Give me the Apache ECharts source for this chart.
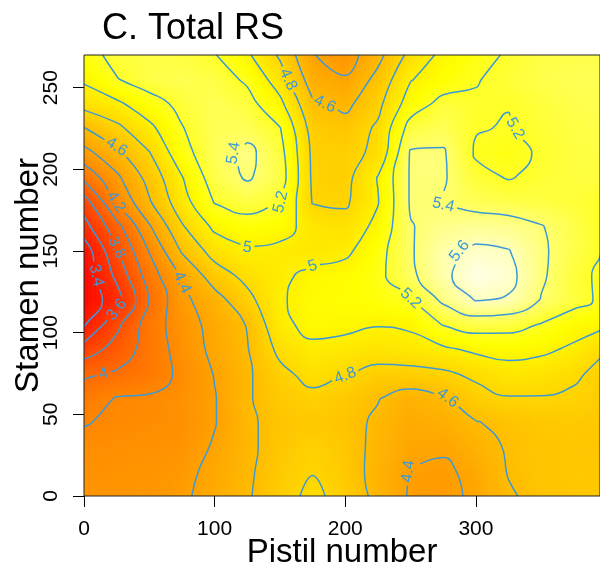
<!DOCTYPE html>
<html>
<head>
<meta charset="utf-8">
<title>C. Total RS</title>
<script src="https://cdn.jsdelivr.net/npm/echarts@6.0.0/dist/echarts.min.js"></script>
<style>
  html, body { margin: 0; padding: 0; background: #fff; }
  #main { width: 600px; height: 570px; }
</style>
</head>
<body>
<div id="main"></div>
<script>
// Total RS at grid nodes
var pistil = [0, 25, 50, 75, 100, 125, 150, 175, 200, 225, 250, 275, 300, 325, 350, 375, 400];
var stamen = [0, 15, 30, 45, 60, 75, 90, 105, 120, 135, 150, 165, 180, 195, 210, 225, 240, 255, 270];
// one row per stamen value (bottom to top), one column per pistil value
var rs = [
  [4.30, 4.31, 4.32, 4.37, 4.47, 4.58, 4.72, 4.85, 4.72, 4.55, 4.38, 4.34, 4.44, 4.58, 4.65, 4.68, 4.68],
  [4.28, 4.29, 4.30, 4.34, 4.46, 4.57, 4.70, 4.79, 4.70, 4.53, 4.39, 4.36, 4.46, 4.61, 4.67, 4.69, 4.68],
  [4.25, 4.27, 4.28, 4.30, 4.42, 4.56, 4.68, 4.76, 4.68, 4.55, 4.44, 4.43, 4.52, 4.62, 4.67, 4.68, 4.67],
  [4.19, 4.23, 4.25, 4.27, 4.39, 4.57, 4.66, 4.70, 4.66, 4.57, 4.47, 4.50, 4.59, 4.65, 4.69, 4.70, 4.68],
  [4.10, 4.21, 4.22, 4.28, 4.39, 4.58, 4.70, 4.75, 4.70, 4.61, 4.52, 4.58, 4.73, 4.79, 4.79, 4.77, 4.72],
  [3.97, 4.02, 4.10, 4.24, 4.41, 4.57, 4.75, 4.87, 4.81, 4.74, 4.74, 4.77, 4.84, 4.92, 4.90, 4.83, 4.74],
  [3.68, 3.88, 4.08, 4.28, 4.45, 4.59, 4.85, 4.96, 4.93, 4.90, 4.93, 4.97, 5.04, 5.07, 5.04, 4.97, 4.81],
  [3.38, 3.75, 4.10, 4.30, 4.47, 4.61, 4.95, 5.06, 5.05, 5.01, 5.03, 5.21, 5.29, 5.27, 5.19, 5.08, 5.03],
  [3.27, 3.50, 4.01, 4.35, 4.52, 4.74, 4.98, 5.07, 5.09, 5.12, 5.19, 5.44, 5.61, 5.58, 5.39, 5.27, 5.15],
  [3.25, 3.65, 4.10, 4.42, 4.70, 4.86, 4.96, 5.05, 5.08, 5.15, 5.36, 5.56, 5.71, 5.66, 5.43, 5.26, 5.15],
  [3.28, 3.78, 4.21, 4.62, 4.88, 4.98, 4.95, 4.92, 4.96, 5.13, 5.38, 5.56, 5.64, 5.61, 5.43, 5.30, 5.18],
  [3.52, 3.93, 4.38, 4.78, 5.04, 5.12, 5.08, 4.92, 4.88, 5.05, 5.39, 5.47, 5.50, 5.48, 5.41, 5.30, 5.18],
  [3.70, 4.21, 4.58, 4.92, 5.21, 5.28, 5.21, 4.79, 4.77, 4.99, 5.42, 5.39, 5.33, 5.30, 5.28, 5.25, 5.19],
  [4.05, 4.36, 4.67, 4.99, 5.30, 5.42, 5.30, 4.77, 4.74, 5.01, 5.42, 5.42, 5.25, 5.19, 5.24, 5.27, 5.27],
  [4.33, 4.55, 4.79, 5.13, 5.33, 5.45, 5.27, 4.76, 4.74, 4.84, 5.42, 5.42, 5.18, 5.15, 5.22, 5.27, 5.28],
  [4.59, 4.75, 4.95, 5.19, 5.33, 5.33, 5.21, 4.72, 4.68, 4.83, 5.28, 5.33, 5.21, 5.19, 5.24, 5.28, 5.30],
  [4.87, 4.96, 5.12, 5.25, 5.33, 5.27, 5.05, 4.63, 4.55, 4.75, 5.10, 5.26, 5.22, 5.205, 5.26, 5.30, 5.31],
  [5.03, 5.19, 5.29, 5.32, 5.29, 5.17, 4.90, 4.50, 4.42, 4.66, 4.99, 5.10, 5.19, 5.25, 5.30, 5.32, 5.32],
  [5.12, 5.26, 5.28, 5.27, 5.21, 5.03, 4.77, 4.41, 4.30, 4.54, 4.86, 5.05, 5.14, 5.22, 5.28, 5.30, 5.30]
];
var levels = [3.4, 3.6, 3.8, 4, 4.2, 4.4, 4.6, 4.8, 5, 5.2, 5.4, 5.6];
var xTicks = [0, 100, 200, 300];
var yTicks = [0, 50, 100, 150, 200, 250];

var FONT = "'Liberation Sans', Arial, sans-serif";
var LINE_COLOR = '#3b99d8';

// like R heat.colors: red -> yellow on the lower part, yellow -> white on top
function heatColor(v) {
  var lo = 3.2, mid = 5.1, hi = 5.78;
  if (v <= mid) {
    var g = Math.max(0, Math.min(1, (v - lo) / (mid - lo)));
    return 'rgb(255,' + Math.round(255 * g) + ',0)';
  }
  var w = Math.min(1, (v - mid) / (hi - mid));
  return 'rgb(255,255,' + Math.round(255 * w) + ')';
}

// each grid cell shaded between its four corner values
function renderHeat(params, api) {
  var nx = pistil.length, idx = params.dataIndex;
  var i = idx % nx, j = Math.floor(idx / nx);
  if (i >= nx - 1 || j >= stamen.length - 1) return null;
  var p0 = api.coord([pistil[i], stamen[j]]);
  var p1 = api.coord([pistil[i + 1], stamen[j + 1]]);
  var z00 = rs[j][i], z10 = rs[j][i + 1], z01 = rs[j + 1][i], z11 = rs[j + 1][i + 1];
  var n = 8, w = (p1[0] - p0[0]) / n, h = (p1[1] - p0[1]) / n;
  var kids = [];
  for (var a = 0; a < n; a++) {
    for (var b = 0; b < n; b++) {
      var u = (a + 0.5) / n, t = (b + 0.5) / n;
      var z = z00 * (1 - u) * (1 - t) + z10 * u * (1 - t) + z01 * (1 - u) * t + z11 * u * t;
      kids.push({
        type: 'rect',
        shape: { x: p0[0] + a * w, y: p0[1] + (b + 1) * h, width: w + 0.7, height: -h + 0.7 },
        style: { fill: heatColor(z) }
      });
    }
  }
  return { type: 'group', children: kids };
}

// marching squares on the grid, segments chained into lines
function traceLevel(level) {
  var nx = pistil.length, ny = stamen.length;
  var pts = {}, segs = [];
  function edge(i0, j0, i1, j1) {
    var key = i0 + '_' + j0 + '_' + i1 + '_' + j1;
    if (!pts[key]) {
      var a = rs[j0][i0], b = rs[j1][i1], t = (level - a) / (b - a);
      pts[key] = [pistil[i0] + t * (pistil[i1] - pistil[i0]), stamen[j0] + t * (stamen[j1] - stamen[j0])];
    }
    return key;
  }
  for (var j = 0; j < ny - 1; j++) {
    for (var i = 0; i < nx - 1; i++) {
      var v0 = rs[j][i], v1 = rs[j][i + 1], v2 = rs[j + 1][i + 1], v3 = rs[j + 1][i];
      var h0 = v0 >= level, h1 = v1 >= level, h2 = v2 >= level, h3 = v3 >= level;
      var e = {};
      if (h0 !== h1) e.b = edge(i, j, i + 1, j);
      if (h1 !== h2) e.r = edge(i + 1, j, i + 1, j + 1);
      if (h3 !== h2) e.t = edge(i, j + 1, i + 1, j + 1);
      if (h0 !== h3) e.l = edge(i, j, i, j + 1);
      var ks = Object.keys(e);
      if (ks.length === 2) {
        segs.push([e[ks[0]], e[ks[1]]]);
      } else if (ks.length === 4) {
        var c = (v0 + v1 + v2 + v3) / 4 >= level;
        if (h0 === c) { segs.push([e.b, e.r]); segs.push([e.t, e.l]); }
        else { segs.push([e.l, e.b]); segs.push([e.r, e.t]); }
      }
    }
  }
  var adj = {};
  segs.forEach(function (s, k) {
    (adj[s[0]] = adj[s[0]] || []).push(k);
    (adj[s[1]] = adj[s[1]] || []).push(k);
  });
  var used = segs.map(function () { return false; });
  function walk(start, k) {
    var keys = [start], cur = start;
    while (k !== undefined && !used[k]) {
      used[k] = true;
      var s = segs[k], nxt = s[0] === cur ? s[1] : s[0];
      keys.push(nxt);
      cur = nxt;
      k = adj[cur].filter(function (q) { return !used[q]; })[0];
    }
    return keys;
  }
  var lines = [];
  Object.keys(adj).forEach(function (key) {
    if (adj[key].length === 1 && !used[adj[key][0]]) lines.push({ keys: walk(key, adj[key][0]), closed: false });
  });
  segs.forEach(function (s, k) {
    if (!used[k]) lines.push({ keys: walk(s[0], k), closed: true });
  });
  return lines.map(function (l) {
    return { pts: l.keys.map(function (key) { return pts[key]; }), closed: l.closed };
  });
}

function renderLabel(params, api) {
  var c = api.coord([api.value(0), api.value(1)]);
  var a = api.coord([api.value(2), api.value(3)]);
  var b = api.coord([api.value(4), api.value(5)]);
  var ang = Math.atan2(-(b[1] - a[1]), b[0] - a[0]);
  if (ang > Math.PI / 2) ang -= Math.PI;
  if (ang < -Math.PI / 2) ang += Math.PI;
  return {
    type: 'text', x: c[0], y: c[1], rotation: ang,
    style: { text: String(api.value(6)), fill: LINE_COLOR, fontSize: 16, fontFamily: FONT, align: 'center', verticalAlign: 'middle' }
  };
}

var heatData = [];
stamen.forEach(function (y, j) {
  pistil.forEach(function (x, i) { heatData.push([x, y, rs[j][i]]); });
});

var chart = echarts.init(document.getElementById('main'));
var heatSeries = {
  type: 'custom', coordinateSystem: 'cartesian2d', data: heatData,
  encode: { x: 0, y: 1 }, renderItem: renderHeat, clip: true, silent: true, z: 1
};
chart.setOption({
  animation: false,
  title: {
    text: 'C. Total RS', left: 97, top: 6,
    textStyle: { fontSize: 36, fontWeight: 'normal', color: '#000', fontFamily: FONT }
  },
  grid: {
    left: 84, right: 0, top: 55, bottom: 74, outerBoundsMode: 'none', containLabel: false,
    show: true, borderColor: '#222', borderWidth: 1, backgroundColor: 'transparent', z: 10
  },
  xAxis: {
    type: 'value', min: 0, max: 395, interval: 100,
    name: 'Pistil number', nameLocation: 'middle', nameGap: 40, nameMoveOverlap: false,
    nameTextStyle: { fontSize: 33, color: '#000', fontFamily: FONT },
    axisLine: { show: false },
    axisTick: { show: true, length: 11, customValues: xTicks, lineStyle: { color: '#000' } },
    axisLabel: { customValues: xTicks, fontSize: 21, color: '#000', fontFamily: FONT, margin: 23 },
    splitLine: { show: false }
  },
  yAxis: {
    type: 'value', min: 0, max: 270, interval: 50,
    name: 'Stamen number', nameLocation: 'middle', nameGap: 39, nameRotate: 90, nameMoveOverlap: false,
    nameTextStyle: { fontSize: 33, color: '#000', fontFamily: FONT },
    axisLine: { show: false },
    axisTick: { show: true, length: 11, customValues: yTicks, lineStyle: { color: '#000' } },
    axisLabel: { customValues: yTicks, rotate: 90, fontSize: 21, color: '#000', fontFamily: FONT, margin: 22 },
    splitLine: { show: false }
  },
  series: [heatSeries]
});

// contour lines with a gap where the label sits
var ctx = document.createElement('canvas').getContext('2d');
ctx.font = '16px ' + FONT;
function toPx(p) { return chart.convertToPixel({ gridIndex: 0 }, p); }
function dist(p, q) { return Math.hypot(p[0] - q[0], p[1] - q[1]); }
function cutAround(D, P, c, r) {
  function cross(a, b) {
    var lo = 0, hi = 1, inA = dist(P[a], c) < r;
    for (var s = 0; s < 30; s++) {
      var m = (lo + hi) / 2;
      var pm = [P[a][0] + m * (P[b][0] - P[a][0]), P[a][1] + m * (P[b][1] - P[a][1])];
      if ((dist(pm, c) < r) === inA) lo = m; else hi = m;
    }
    var t = (lo + hi) / 2;
    return [D[a][0] + t * (D[b][0] - D[a][0]), D[a][1] + t * (D[b][1] - D[a][1])];
  }
  var pieces = [], cur = null;
  for (var k = 0; k < D.length; k++) {
    var inside = dist(P[k], c) < r;
    if (!inside) {
      if (!cur) { cur = []; if (k > 0) cur.push(cross(k - 1, k)); }
      cur.push(D[k]);
    } else if (cur) {
      cur.push(cross(k - 1, k));
      pieces.push(cur);
      cur = null;
    }
  }
  if (cur) pieces.push(cur);
  return pieces;
}
function mkLine(data) {
  return {
    type: 'line', data: data, showSymbol: false, smooth: 0.5, silent: true, z: 3,
    lineStyle: { color: LINE_COLOR, width: 1.5 }
  };
}

var gridRect = chart.getModel().getComponent('grid', 0).coordinateSystem.getRect();
var placed = [];
// pick the flattest spot on a line that is inside the plot and away from other labels
function pickSpot(P, len, tw, closed) {
  var total = len[len.length - 1], best = -1, bestScore = Infinity;
  function idxAt(s) {
    if (closed) s = ((s % total) + total) % total;
    else s = Math.max(0, Math.min(total, s));
    var k = 0;
    while (k < len.length - 1 && len[k] < s) k++;
    return k;
  }
  for (var k = 0; k < P.length - (closed ? 1 : 0); k++) {
    if (!closed && (len[k] < tw * 0.7 || total - len[k] < tw * 0.7)) continue;
    var p = P[k];
    if (p[0] < gridRect.x + 10 || p[0] > gridRect.x + gridRect.width - 10 ||
        p[1] < gridRect.y + 9 || p[1] > gridRect.y + gridRect.height - 9) continue;
    var near = placed.some(function (q) { return dist(p, q) < 34; });
    if (near) continue;
    var a = P[idxAt(len[k] - tw)], b = P[idxAt(len[k] + tw)];
    var t1 = Math.atan2(p[1] - a[1], p[0] - a[0]), t2 = Math.atan2(b[1] - p[1], b[0] - p[0]);
    var turn = Math.abs(Math.atan2(Math.sin(t2 - t1), Math.cos(t2 - t1)));
    var score = turn + 0.4 * Math.abs(len[k] / total - 0.5);
    if (score < bestScore) { bestScore = score; best = k; }
  }
  return best;
}

var lineSeries = [], labelData = [];
levels.forEach(function (lv) {
  traceLevel(lv).forEach(function (ln) {
    var D = ln.pts, P = D.map(toPx);
    var len = [0];
    for (var k = 1; k < P.length; k++) len.push(len[k - 1] + dist(P[k], P[k - 1]));
    var total = len[len.length - 1];
    var text = String(lv), tw = ctx.measureText(text).width;
    var m = total < tw * 3 + 20 ? -1 : pickSpot(P, len, tw, ln.closed);
    if (m < 0) { lineSeries.push(mkLine(D)); return; }
    placed.push(P[m]);
    if (ln.closed) {
      var body = D.slice(0, -1);
      D = body.slice(m).concat(body.slice(0, m));
      D.push(D[0]);
      P = D.map(toPx);
      m = 0;
    }
    var prev = D[m > 0 ? m - 1 : D.length - 2];
    var next = D[m < D.length - 1 ? m + 1 : 1];
    labelData.push([D[m][0], D[m][1], prev[0], prev[1], next[0], next[1], lv]);
    cutAround(D, P, P[m], tw / 2 + 3).forEach(function (piece) {
      if (piece.length > 1) lineSeries.push(mkLine(piece));
    });
  });
});

chart.setOption({
  series: [heatSeries].concat(lineSeries, [{
    type: 'custom', coordinateSystem: 'cartesian2d', data: labelData,
    encode: { x: 0, y: 1 }, renderItem: renderLabel, silent: true, z: 4
  }])
});
</script>
</body>
</html>
